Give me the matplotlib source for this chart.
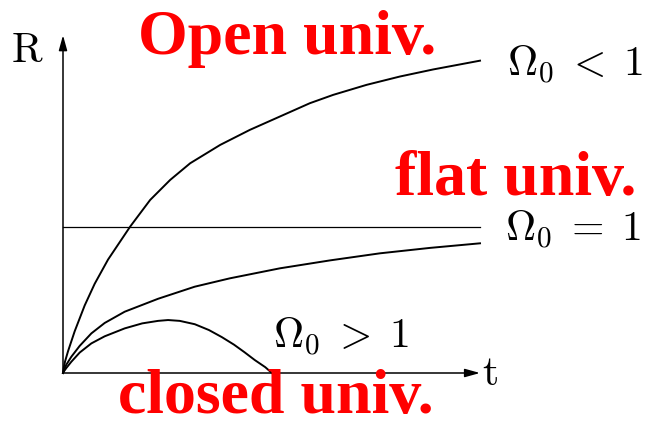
# Friedmann scale factor sketch: R(t) for open, flat and closed universes
import matplotlib
matplotlib.use('Agg')
import matplotlib.pyplot as plt
import numpy as np

plt.rcParams['mathtext.fontset'] = 'cm'

# curves (t, R in arbitrary units, origin at 0,0)
t_open = [0, 0.02, 0.05, 0.12, 0.28, 0.52, 0.76, 1.08, 1.61, 2.09, 2.57, 3.05, 3.77,
          4.48, 5.20, 5.92, 6.48, 7.28, 8.08, 8.88, 10.0]
R_open = [0, 0.14, 0.28, 0.52, 1.00, 1.62, 2.14, 2.72, 3.51, 4.15, 4.63, 5.03, 5.47,
          5.83, 6.15, 6.47, 6.67, 6.91, 7.11, 7.28, 7.49]

t_flat = [0, 0.03, 0.08, 0.20, 0.40, 0.68, 1.00, 1.48, 2.28, 3.16, 4.00, 5.20, 6.40,
          7.60, 8.80, 10.0]
R_flat = [0, 0.09, 0.20, 0.39, 0.65, 0.95, 1.20, 1.47, 1.78, 2.07, 2.27, 2.51, 2.70,
          2.87, 3.00, 3.11]

t_closed = [0, 0.03, 0.08, 0.20, 0.40, 0.68, 1.00, 1.48, 1.90, 2.28, 2.52, 2.80, 3.16,
            3.50, 3.81, 4.10, 4.35, 4.60, 4.85, 5.01]
R_closed = [0, 0.05, 0.12, 0.27, 0.49, 0.71, 0.88, 1.07, 1.19, 1.25, 1.27, 1.25, 1.17,
            1.03, 0.86, 0.68, 0.50, 0.31, 0.14, 0.0]

R_crit = 3.50     # horizontal reference line
t_max = 10.0
R_max = 8.1

labels = [r'$\Omega_0 \;<\; 1$', r'$\Omega_0 \;=\; 1$', r'$\Omega_0 \;>\; 1$']
titles = ['Open univ.', 'flat univ.', 'closed univ.']

px = 41.7  # pixels per unit
fig = plt.figure(figsize=(6.54, 4.28), dpi=100)
ax = fig.add_axes([0, 0, 1, 1])
ax.set_xlim(-63 / px, (654 - 63) / px)
ax.set_ylim(-(428 - 373) / px, 373 / px)
ax.axis('off')

ax.plot(t_open, R_open, color='black', lw=1.4, solid_joinstyle='round')
ax.plot(t_flat, R_flat, color='black', lw=1.4, solid_joinstyle='round')
ax.plot(t_closed, R_closed, color='black', lw=1.4, solid_joinstyle='round')
ax.plot([0, t_max], [R_crit, R_crit], color='black', lw=0.9)

# axes with arrow heads
arr = dict(arrowstyle='-|>,head_length=0.9,head_width=0.25', color='black', lw=1.1,
           shrinkA=0, shrinkB=0)
ax.annotate('', xy=(t_max, 0), xytext=(0, 0), arrowprops=arr)
ax.annotate('', xy=(0, R_max), xytext=(0, 0), arrowprops=arr)

ax.text(-0.85, 7.46, r'$\mathrm{R}$', fontsize=30, ha='center', va='baseline')
ax.text(10.24, -0.29, r'$\mathrm{t}$', fontsize=30, ha='center', va='baseline')

ax.text(10.65, 7.11, labels[0], fontsize=30, va='baseline')
ax.text(10.6, 3.15, labels[1], fontsize=30, va='baseline')
ax.text(5.04, 0.59, labels[2], fontsize=30, va='baseline')

red = dict(color='#ff0000', fontweight='bold', family='Liberation Serif', fontsize=46, va='baseline')
ax.text(1.8, 7.65, titles[0], **red)
ax.text(7.96, 4.27, titles[1], **red)
ax.text(1.32, -0.97, titles[2], **red)

fig.savefig('out.png', dpi=100)
